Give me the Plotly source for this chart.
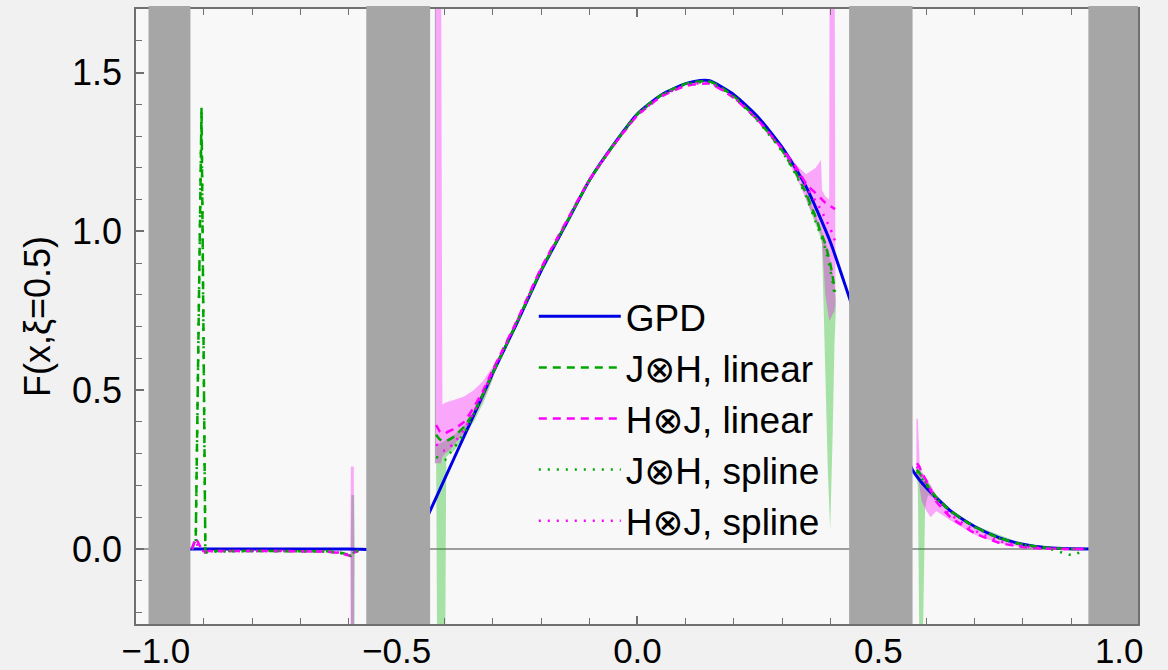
import plotly.graph_objects as go

# ---------------- data ----------------
# GPD (blue solid)
gpd_x = [-1.0, -0.9, -0.8, -0.7, -0.6, -0.5, -0.47, -0.45, -0.4315, -0.40, -0.35, -0.30, -0.25,
         -0.20, -0.15, -0.10, -0.05, 0.0, 0.05, 0.10, 0.13, 0.15, 0.20, 0.25, 0.30, 0.35, 0.40,
         0.44, 0.47, 0.50, 0.53, 0.55, 0.571, 0.60, 0.65, 0.70, 0.75, 0.80, 0.85, 0.90, 0.95, 1.0]
gpd_y = [0, 0, 0, 0, 0, 0, 0.025, 0.06, 0.117, 0.222, 0.388, 0.555, 0.712,
         0.876, 1.018, 1.16, 1.272, 1.37, 1.43, 1.465, 1.475, 1.474, 1.43, 1.36, 1.265, 1.141, 0.968,
         0.79, 0.655, 0.53, 0.415, 0.33, 0.249, 0.192, 0.12, 0.071, 0.036, 0.015, 0.004, 0.0005, 0, 0]

# reconstructions: three x segments (left, ERBL, DGLAP)
xa = [-0.925, -0.917, -0.905, -0.897, -0.89, -0.85, -0.80, -0.75, -0.70, -0.65, -0.62, -0.605, -0.595, -0.588, -0.58]
xb = [-0.418, -0.41, -0.40, -0.39, -0.38, -0.36, -0.34, -0.32, -0.30, -0.25, -0.20, -0.15, -0.10, -0.05,
      0.00, 0.05, 0.10, 0.15, 0.20, 0.25, 0.30, 0.33, 0.35, 0.37, 0.38, 0.39, 0.40, 0.405, 0.41]
xc = [0.58, 0.585, 0.59, 0.60, 0.62, 0.65, 0.70, 0.75, 0.80, 0.85, 0.90, 0.93]

jh_lin_a = [0.0, 0.03, 1.39, -0.01, -0.006, -0.006, -0.005, -0.005, -0.006, -0.007, -0.01, -0.015, -0.02, -0.01, -0.005]
jh_lin_b = [0.36, 0.345, 0.338, 0.345, 0.355, 0.385, 0.43, 0.49, 0.555, 0.715, 0.878, 1.02, 1.16, 1.272,
            1.37, 1.43, 1.465, 1.472, 1.425, 1.35, 1.255, 1.18, 1.12, 1.045, 1.0, 0.96, 0.90, 0.86, 0.81]
jh_lin_c = [0.25, 0.24, 0.228, 0.205, 0.163, 0.12, 0.07, 0.035, 0.014, 0.004, 0.0, 0.0]

hj_lin_a = [0.0, 0.035, 0.0, -0.01, -0.006, -0.007, -0.006, -0.006, -0.007, -0.008, -0.012, -0.018, -0.022, -0.012, -0.006]
hj_lin_b = [0.39, 0.37, 0.364, 0.372, 0.378, 0.40, 0.445, 0.50, 0.565, 0.72, 0.885, 1.025, 1.162, 1.27,
            1.365, 1.425, 1.458, 1.465, 1.42, 1.35, 1.26, 1.2, 1.15, 1.12, 1.105, 1.09, 1.08, 1.075, 1.07]
hj_lin_c = [0.27, 0.26, 0.24, 0.215, 0.15, 0.10, 0.05, 0.02, 0.006, 0.001, 0.0, 0.0]

jh_spl_a = [0.0, 0.02, 1.38, -0.012, -0.008, -0.007, -0.006, -0.006, -0.007, -0.008, -0.011, -0.016, -0.021, -0.011, -0.006]
jh_spl_b = [0.29, 0.285, 0.28, 0.30, 0.32, 0.365, 0.425, 0.488, 0.555, 0.713, 0.877, 1.019, 1.16, 1.271,
            1.369, 1.429, 1.463, 1.47, 1.423, 1.347, 1.252, 1.175, 1.11, 1.03, 0.99, 0.945, 0.88, 0.84, 0.79]
jh_spl_c = [0.245, 0.235, 0.222, 0.2, 0.16, 0.118, 0.069, 0.034, 0.013, 0.003, -0.018, -0.005]

hj_spl_a = [0.0, 0.02, -0.005, -0.008, -0.007, -0.006, -0.006, -0.006, -0.007, -0.008, -0.011, -0.017, -0.02, -0.011, -0.006]
hj_spl_b = [0.33, 0.32, 0.31, 0.32, 0.335, 0.375, 0.43, 0.493, 0.56, 0.718, 0.882, 1.022, 1.161, 1.27,
            1.366, 1.426, 1.46, 1.467, 1.421, 1.35, 1.258, 1.19, 1.14, 1.095, 1.07, 1.04, 1.01, 0.99, 0.97]
hj_spl_c = [0.26, 0.245, 0.232, 0.205, 0.155, 0.108, 0.058, 0.026, 0.009, 0.002, 0.0, 0.0]

# uncertainty bands (H⊗J: magenta, J⊗H: green), only where they are visible
pink_a_x = [-0.596, -0.595, -0.589, -0.588]
pink_a_lo = [-0.02, -0.6, -0.6, -0.02]
pink_a_hi = [0.0, 0.26, 0.26, 0.0]

pink_bl_x = [-0.419, -0.408, -0.405, -0.40, -0.39, -0.38, -0.36, -0.34, -0.32, -0.30, -0.28]
pink_bl_lo = [0.27, 0.27, 0.29, 0.30, 0.31, 0.33, 0.365, 0.41, 0.47, 0.54, 0.61]
pink_bl_hi = [2.0, 2.0, 0.455, 0.46, 0.465, 0.47, 0.48, 0.50, 0.53, 0.575, 0.63]

pink_br_x = [0.30, 0.33, 0.35, 0.37, 0.381, 0.383, 0.39, 0.398, 0.399, 0.409, 0.411]
pink_br_lo = [1.255, 1.17, 1.10, 1.03, 0.99, 0.97, 0.80, 0.72, 0.72, 0.75, 0.78]
pink_br_hi = [1.27, 1.21, 1.18, 1.20, 1.225, 1.13, 1.11, 1.10, 2.0, 2.0, 0.80]

pink_c_x = [0.579, 0.582, 0.586, 0.59, 0.60, 0.609, 0.62, 0.65, 0.70, 0.75, 0.80, 0.85, 0.90, 0.93]
pink_c_lo = [0.25, 0.23, 0.19, 0.15, 0.12, 0.10, 0.12, 0.09, 0.045, 0.018, 0.005, 0.0, -0.002, 0.0]
pink_c_hi = [0.41, 0.41, 0.26, 0.245, 0.22, 0.20, 0.17, 0.125, 0.074, 0.037, 0.016, 0.005, 0.002, 0.0]

green_a_x = [-0.595, -0.594, -0.588, -0.587]
green_a_lo = [-0.02, -0.6, -0.6, -0.02]
green_a_hi = [0.0, 0.17, 0.17, 0.0]

green_bl_x = [-0.418, -0.415, -0.40, -0.397, -0.39, -0.38, -0.36, -0.34, -0.32, -0.30]
green_bl_lo = [0.30, -0.6, -0.6, 0.29, 0.30, 0.31, 0.355, 0.40, 0.46, 0.535]
green_bl_hi = [0.33, 0.33, 0.34, 0.345, 0.35, 0.36, 0.39, 0.43, 0.49, 0.555]

green_br_x = [0.35, 0.37, 0.38, 0.383, 0.39, 0.395, 0.40, 0.405, 0.409, 0.412]
green_br_lo = [1.10, 1.02, 0.98, 0.96, 0.55, 0.25, 0.06, 0.35, 0.65, 0.76]
green_br_hi = [1.13, 1.05, 1.01, 1.0, 0.97, 0.94, 0.91, 0.87, 0.83, 0.78]

green_c_x = [0.578, 0.582, 0.587, 0.589, 0.597, 0.603, 0.62, 0.65, 0.70, 0.80, 0.90, 0.93]
green_c_lo = [0.24, 0.20, -0.6, -0.6, 0.13, 0.17, 0.155, 0.115, 0.067, 0.012, -0.005, 0.0]
green_c_hi = [0.25, 0.25, 0.245, 0.24, 0.225, 0.21, 0.17, 0.125, 0.074, 0.016, 0.003, 0.0]

# excluded (gray) x-regions
gray_regions = [(-1.015, -0.928), (-0.563, -0.4305), (0.4393, 0.571), (0.936, 1.039)]

# ---------------- styles ----------------
BLUE = "#0000e6"
GREEN = "#00a600"
MAGENTA = "#ff00ff"
PINK_FILL = "rgba(255,0,255,0.33)"
GREEN_FILL = "rgba(0,180,0,0.33)"
FONT = "Liberation Sans, Arial, DejaVu Sans, sans-serif"


def band(xs, lo, hi):
    return list(xs) + list(xs)[::-1] + [xs[0]], list(lo) + list(hi)[::-1] + [lo[0]]


fig = go.Figure()

for xs, lo, hi, col in [
    (green_a_x, green_a_lo, green_a_hi, GREEN_FILL),
    (green_bl_x, green_bl_lo, green_bl_hi, GREEN_FILL),
    (green_br_x, green_br_lo, green_br_hi, GREEN_FILL),
    (green_c_x, green_c_lo, green_c_hi, GREEN_FILL),
    (pink_a_x, pink_a_lo, pink_a_hi, PINK_FILL),
    (pink_bl_x, pink_bl_lo, pink_bl_hi, PINK_FILL),
    (pink_br_x, pink_br_lo, pink_br_hi, PINK_FILL),
    (pink_c_x, pink_c_lo, pink_c_hi, PINK_FILL),
]:
    bx, by = band(xs, lo, hi)
    fig.add_trace(go.Scatter(x=bx, y=by, fill="toself", fillcolor=col, mode="none",
                             showlegend=False, hoverinfo="skip"))

# thin gray line at the left ERBL edge
fig.add_trace(go.Scatter(x=[-0.4195, -0.4195], y=[0.27, 2.0], mode="lines",
                         line=dict(color="rgba(120,120,120,0.6)", width=1),
                         showlegend=False, hoverinfo="skip"))

fig.add_trace(go.Scatter(x=gpd_x, y=gpd_y, mode="lines", name="GPD", legendgroup="gpd",
                         line=dict(color=BLUE, width=3, shape="spline", smoothing=0.6)))

series = [
    ("J⊗H, linear", GREEN, "8px,6px", jh_lin_a, jh_lin_b, jh_lin_c),
    ("H⊗J, linear", MAGENTA, "8px,6px", hj_lin_a, hj_lin_b, hj_lin_c),
    ("J⊗H, spline", GREEN, "2px,7px", jh_spl_a, jh_spl_b, jh_spl_c),
    ("H⊗J, spline", MAGENTA, "2px,7px", hj_spl_a, hj_spl_b, hj_spl_c),
]
for name, col, dash, ya, yb, yc in series:
    fig.add_trace(go.Scatter(x=xb, y=yb, mode="lines", name=name, legendgroup=name,
                             line=dict(color=col, width=2.5, dash=dash, shape="spline", smoothing=0.5)))
    fig.add_trace(go.Scatter(x=xa, y=ya, mode="lines", name=name, legendgroup=name, showlegend=False,
                             line=dict(color=col, width=2.5, dash=dash)))
    fig.add_trace(go.Scatter(x=xc, y=yc, mode="lines", name=name, legendgroup=name, showlegend=False,
                             line=dict(color=col, width=2.5, dash=dash, shape="spline", smoothing=0.5)))

shapes = [dict(type="line", xref="paper", yref="y", x0=0, x1=1, y0=0, y1=0,
               line=dict(color="#808080", width=1.5), layer="below")]
for a, b in gray_regions:
    shapes.append(dict(type="rect", xref="x", yref="paper", x0=a, x1=b, y0=0.0, y1=1.005,
                       fillcolor="#a6a6a6", line=dict(width=0), layer="above"))

axis_common = dict(showline=True, linecolor="#707070", linewidth=1.5, mirror="allticks",
                   ticks="inside", ticklen=8, tickwidth=1.5, tickcolor="#707070",
                   showgrid=False, zeroline=False, automargin=False)

fig.update_layout(
    width=1168, height=670, autosize=False,
    margin=dict(l=136, r=30, t=9, b=46, autoexpand=False),
    paper_bgcolor="#f1f1f1", plot_bgcolor="#f8f8f8",
    shapes=shapes,
    showlegend=True,
    legend=dict(x=0.397, y=0.55, xanchor="left", yanchor="top",
                bgcolor="rgba(248,248,248,0)", borderwidth=0,
                font=dict(family=FONT, size=37, color="black"),
                itemwidth=82, tracegroupgap=0),
    xaxis=dict(range=[-1.041, 1.039], tick0=0, dtick=0.5, tickformat=".1f",
               tickfont=dict(family=FONT, size=35, color="black"), ticklabelstandoff=-5,
               minor=dict(dtick=0.1, ticks="inside", ticklen=6, tickcolor="#707070", tickwidth=1.2),
               **axis_common),
    yaxis=dict(range=[-0.236, 1.70], tick0=0, dtick=0.5, tickformat=".1f",
               tickfont=dict(family=FONT, size=36, color="black"), ticklabelstandoff=5,
               minor=dict(dtick=0.1, ticks="inside", ticklen=6, tickcolor="#707070", tickwidth=1.2),
               title=dict(text="F(x,ξ=0.5)", font=dict(family=FONT, size=36, color="black"), standoff=10),
               **axis_common),
)

fig.write_html(
    "out.html",
    config={"displayModeBar": False, "responsive": False},
    post_script="document.body.style.margin='0';document.body.style.overflow='hidden';"
                "document.body.style.background='#f1f1f1';",
)
